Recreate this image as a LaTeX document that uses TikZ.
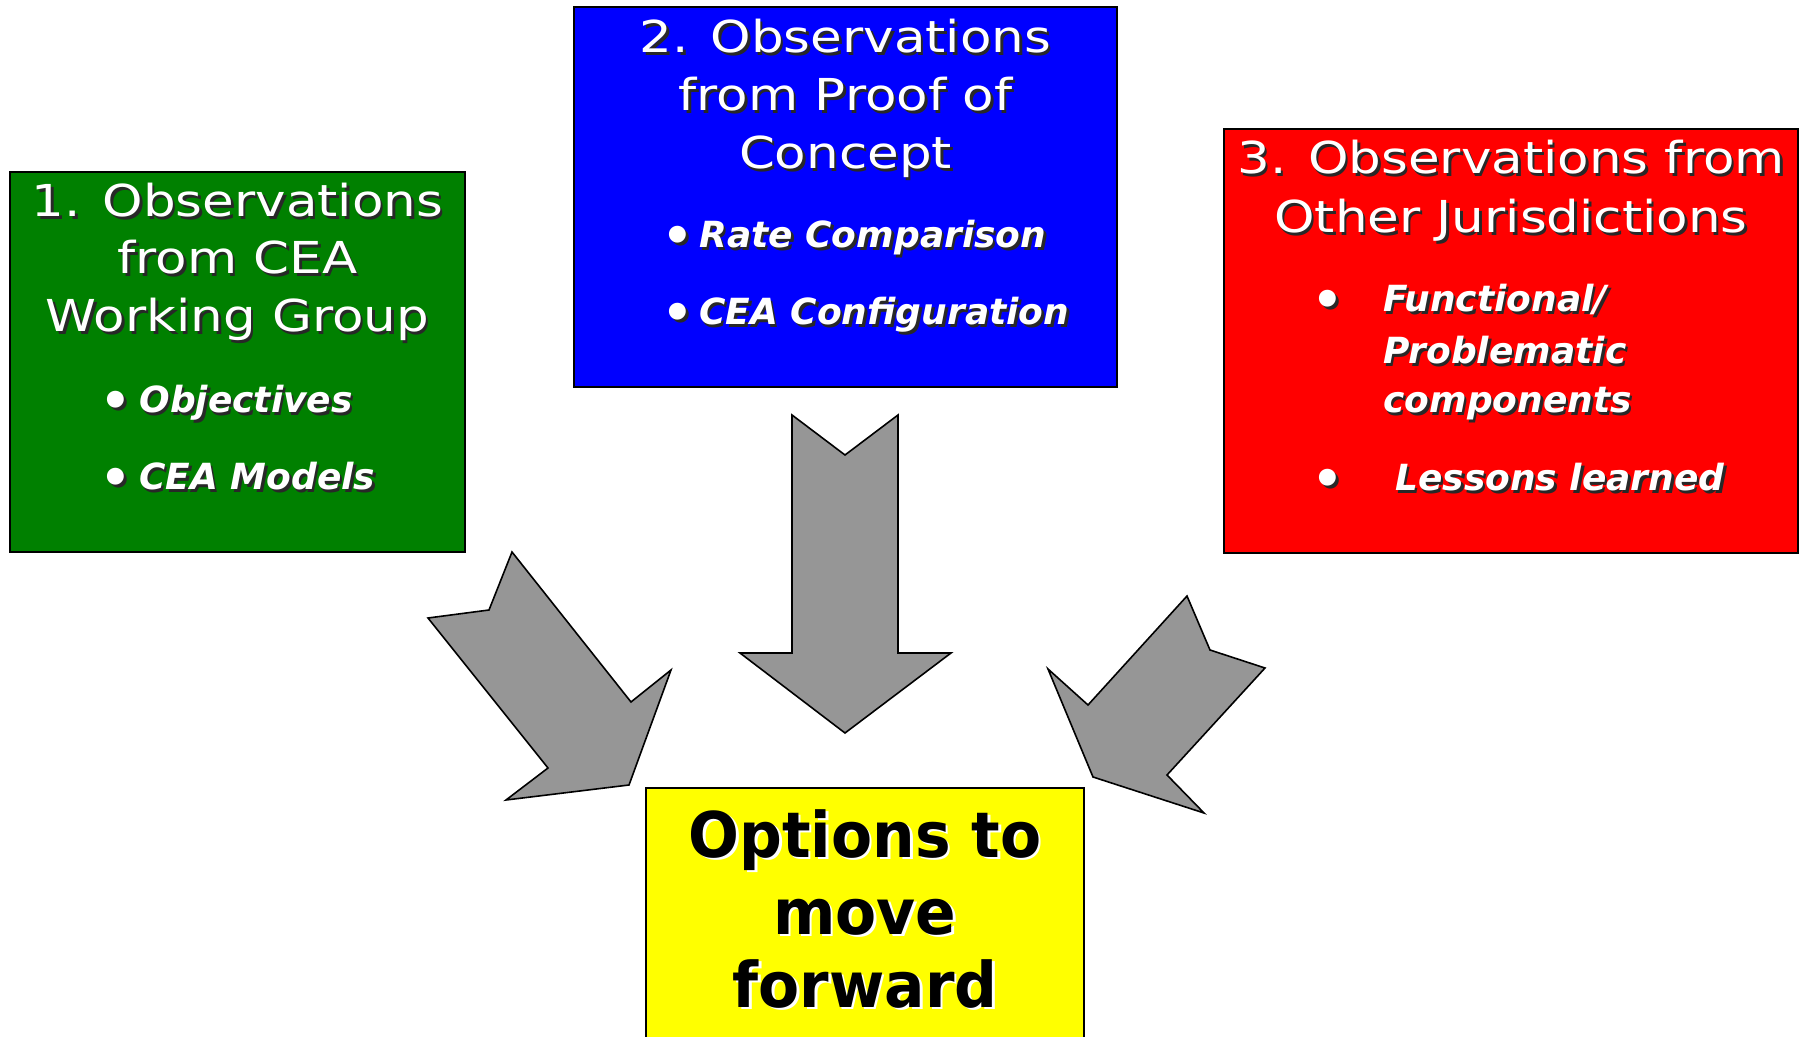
\documentclass[tikz,border=0pt]{standalone}
\usepackage{fontspec}
\setmainfont{DejaVu Sans}[BoldFont={DejaVu Sans Bold},ItalicFont={DejaVu Sans Oblique},BoldItalicFont={DejaVu Sans Bold Oblique}]
\usepackage{graphicx}
\definecolor{cgreen}{RGB}{0,128,0}
\definecolor{cblue}{RGB}{0,0,255}
\definecolor{cred}{RGB}{255,0,0}
\definecolor{cyellow}{RGB}{255,255,0}
\definecolor{arrowgray}{RGB}{150,150,150}
\definecolor{shadowgray}{RGB}{40,40,40}
\tikzset{
  box/.style={draw=black, line width=1pt, inner sep=0pt},
  ttl/.style={text=white, font=\fontsize{22}{26}\selectfont, inner sep=0pt, anchor=base},
  itm/.style={text=white, font=\bfseries\itshape\fontsize{18}{22}\selectfont, inner sep=0pt, anchor=base west},
  bul/.style={text=white, font=\bfseries\fontsize{24}{28}\selectfont, inner sep=0pt, anchor=base},
  opt/.style={text=black, font=\bfseries\fontsize{31.5}{36}\selectfont, inner sep=0pt, anchor=base},
  dkshadow/.style={text=shadowgray, xshift=1.25pt, yshift=-1.25pt},
  wtshadow/.style={text=white, xshift=1.25pt, yshift=-1.25pt},
  bigarrow/.style={fill=arrowgray, draw=black, line width=0.8pt, line join=miter},
}
\newcommand\stxt[5]{%
  \node[#1,#2] at #4 {#5};
  \node[#1] (#3) at #4 {#5};}
\newcommand\ttlw[1]{\scalebox{1.17}[1]{#1}}
\begin{document}
\begin{tikzpicture}[x=0.5pt,y=-0.5pt]
\useasboundingbox (0,0) rectangle (1800,1037);
\clip (0,0) rectangle (1800,1037);
\fill[white] (0,0) rectangle (1800,1037);
% boxes
\node[box, fill=cgreen, minimum width=227.5pt, minimum height=190pt] (obs1) at (237.5,362) {};
\node[box, fill=cblue, minimum width=271.5pt, minimum height=190pt] (obs2) at (845.5,197) {};
\node[box, fill=cred, minimum width=287pt, minimum height=212pt] (obs3) at (1511,341) {};
\node[box, fill=cyellow, minimum width=219pt, minimum height=136pt] (opts) at (865,924) {};
% arrows
\filldraw[bigarrow] (512,552) -- (631,702) -- (671,670) -- (629,785) -- (506,800) -- (548,768) -- (428,618) -- (489,610) -- cycle;
\filldraw[bigarrow] (792,415) -- (845,455) -- (898,415) -- (898,653) -- (951,653) -- (845,733) -- (740,653) -- (792,653) -- cycle;
\filldraw[bigarrow] (1187,596) -- (1210,650) -- (1265,668) -- (1167,775) -- (1204,813) -- (1093,777) -- (1048,669) -- (1088,705) -- cycle;
% box 1
\stxt{ttl}{dkshadow}{t1a}{(237.5,217)}{\ttlw{1. Observations}}
\stxt{ttl}{dkshadow}{t1b}{(237.5,274)}{\ttlw{from CEA}}
\stxt{ttl}{dkshadow}{t1c}{(237.5,332)}{\ttlw{Working Group}}
\stxt{bul}{dkshadow}{b1a}{(116,418)}{•}
\stxt{itm}{dkshadow}{i1a}{(139,413)}{Objectives}
\stxt{bul}{dkshadow}{b1b}{(116,495)}{•}
\stxt{itm}{dkshadow}{i1b}{(139,490)}{CEA Models}
% box 2
\stxt{ttl}{dkshadow}{t2a}{(845.5,53)}{\ttlw{2. Observations}}
\stxt{ttl}{dkshadow}{t2b}{(845.5,111)}{\ttlw{from Proof of}}
\stxt{ttl}{dkshadow}{t2c}{(845.5,169)}{\ttlw{Concept}}
\stxt{bul}{dkshadow}{b2a}{(678,253)}{•}
\stxt{itm}{dkshadow}{i2a}{(699,248)}{Rate Comparison}
\stxt{bul}{dkshadow}{b2b}{(678,330)}{•}
\stxt{itm}{dkshadow}{i2b}{(699,325)}{CEA Configuration}
% box 3
\stxt{ttl}{dkshadow}{t3a}{(1511,174)}{\ttlw{3. Observations from}}
\stxt{ttl}{dkshadow}{t3b}{(1511,233)}{\ttlw{Other Jurisdictions}}
\stxt{bul}{dkshadow}{b3a}{(1328,317)}{•}
\stxt{itm}{dkshadow}{i3a}{(1383,312)}{Functional/}
\stxt{itm}{dkshadow}{i3b}{(1383,364)}{Problematic}
\stxt{itm}{dkshadow}{i3c}{(1383,413)}{components}
\stxt{bul}{dkshadow}{b3b}{(1328,496)}{•}
\stxt{itm}{dkshadow}{i3d}{(1395,491)}{Lessons learned}
% options
\stxt{opt}{wtshadow}{o1}{(865,857)}{\scalebox{0.95}[1]{Options to}}
\stxt{opt}{wtshadow}{o2}{(865,934)}{\scalebox{0.95}[1]{move}}
\stxt{opt}{wtshadow}{o3}{(865,1007)}{\scalebox{0.95}[1]{forward}}
\end{tikzpicture}
\end{document}
